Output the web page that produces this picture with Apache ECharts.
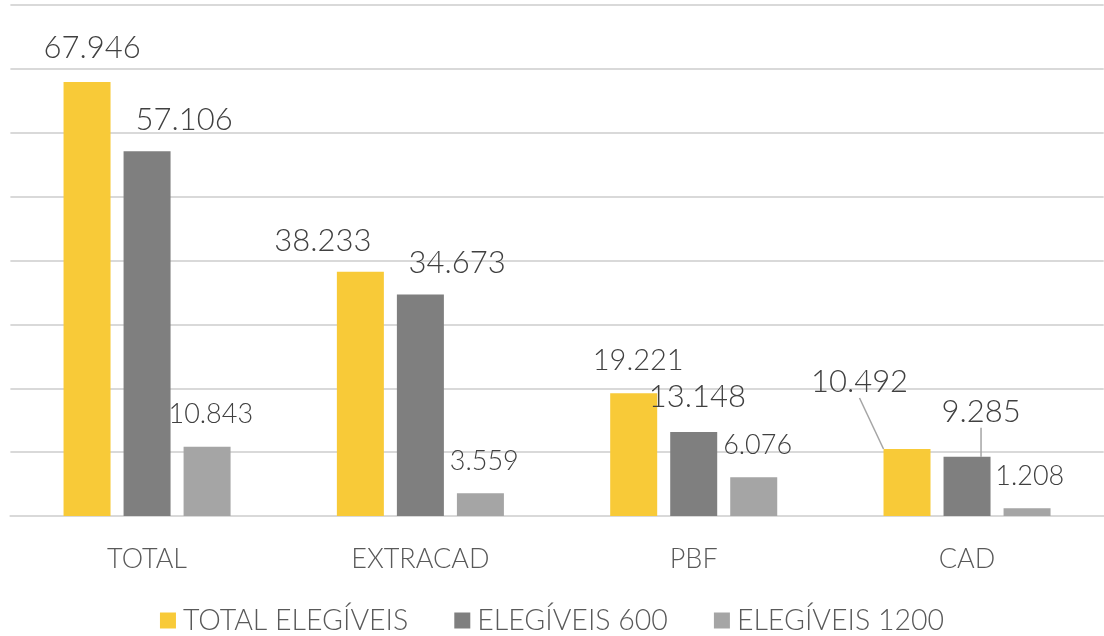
<!DOCTYPE html>
<html>
<head>
<meta charset="utf-8">
<script src="https://cdn.jsdelivr.net/npm/echarts@6/dist/echarts.min.js"></script>
<style>
  html, body { margin: 0; padding: 0; background: #ffffff; }
  #chart { width: 1104px; height: 636px; }
</style>
</head>
<body>
<div id="chart"></div>
<script>
// Categories and series values
const categories = ['TOTAL', 'EXTRACAD', 'PBF', 'CAD'];
const seriesNames = ['TOTAL ELEGÍVEIS', 'ELEGÍVEIS 600', 'ELEGÍVEIS 1200'];
const totalElegiveis = [67946, 38233, 19221, 10492];
const elegiveis600 = [57106, 34673, 13148, 9285];
const elegiveis1200 = [10843, 3559, 6076, 1208];

// Value axis range
const yMin = 0;
const yMax = 80000;
const yInterval = 10000;

const colors = ['#F8CA38', '#7F7F7F', '#A5A5A5'];
const FONT = 'Lato, "Open Sans", sans-serif';
const WEIGHT = 300;

// Label placement relative to the top-centre of each bar [dx, dy]
const labelShift = [
  [[5, -34], [-37.5, -31], [4.5, -33], [-47.5, -66.5]],
  [[37, -31], [36.7, -31.5], [3.7, -35], [14, -44.5]],
  [[3.7, -32.4], [3.9, -32.3], [3.9, -32.2], [2.7, -32.3]]
];
// Label font sizes per bar
const labelSize = [
  [31, 31, 29, 31],
  [31, 31, 31, 31],
  [27, 27, 27, 27]
];
// Bars whose label gets a leader line
const leader = [
  [false, false, false, true],
  [false, false, false, true],
  [false, false, false, false]
];

function fmt(v) {
  const s = String(Math.round(v));
  return s.replace(/\B(?=(\d{3})+(?!\d))/g, '.');
}

const values = [totalElegiveis, elegiveis600, elegiveis1200];

const series = values.map((vals, si) => ({
  name: seriesNames[si],
  type: 'bar',
  barWidth: 47,
  barGap: '27.7%',
  itemStyle: { color: colors[si] },
  data: vals.map((v, di) => ({
    value: v,
    label: { fontSize: labelSize[si][di] },
    labelLine: { show: leader[si][di] }
  })),
  label: {
    show: true,
    position: 'top',
    distance: 0,
    align: 'center',
    verticalAlign: 'middle',
    color: '#404040',
    fontFamily: FONT,
    fontWeight: WEIGHT,
    formatter: p => fmt(p.value)
  },
  labelLine: {
    show: false,
    lineStyle: { color: '#A5A5A5', width: 1.5 }
  },
  labelLayout: p => {
    const o = labelShift[p.seriesIndex][p.dataIndex];
    return { dx: o[0], dy: o[1] };
  },
  emphasis: { disabled: true }
}));

const chart = echarts.init(document.getElementById('chart'), null, { renderer: 'canvas' });
chart.setOption({
  animation: false,
  backgroundColor: '#ffffff',
  grid: { left: 10.4, right: 0.3, top: 5, bottom: 120, containLabel: false },
  legend: {
    top: 601,
    left: 'center',
    icon: 'rect',
    itemWidth: 16,
    itemHeight: 16,
    itemGap: 46,
    textStyle: { fontFamily: FONT, fontWeight: WEIGHT, fontSize: 28.5, color: '#595959', padding: [0, 0, 0, 2] },
    data: seriesNames
  },
  xAxis: {
    type: 'category',
    data: categories,
    axisTick: { show: false },
    axisLine: { show: true, lineStyle: { color: '#D9D9D9', width: 2 } },
    axisLabel: { fontFamily: FONT, fontWeight: WEIGHT, fontSize: 27, color: '#595959', margin: 30 }
  },
  yAxis: {
    type: 'value',
    min: yMin,
    max: yMax,
    interval: yInterval,
    axisLabel: { show: false },
    axisLine: { show: false },
    axisTick: { show: false },
    splitLine: { lineStyle: { color: '#D9D9D9', width: 2 } }
  },
  series: series
});
</script>
</body>
</html>
